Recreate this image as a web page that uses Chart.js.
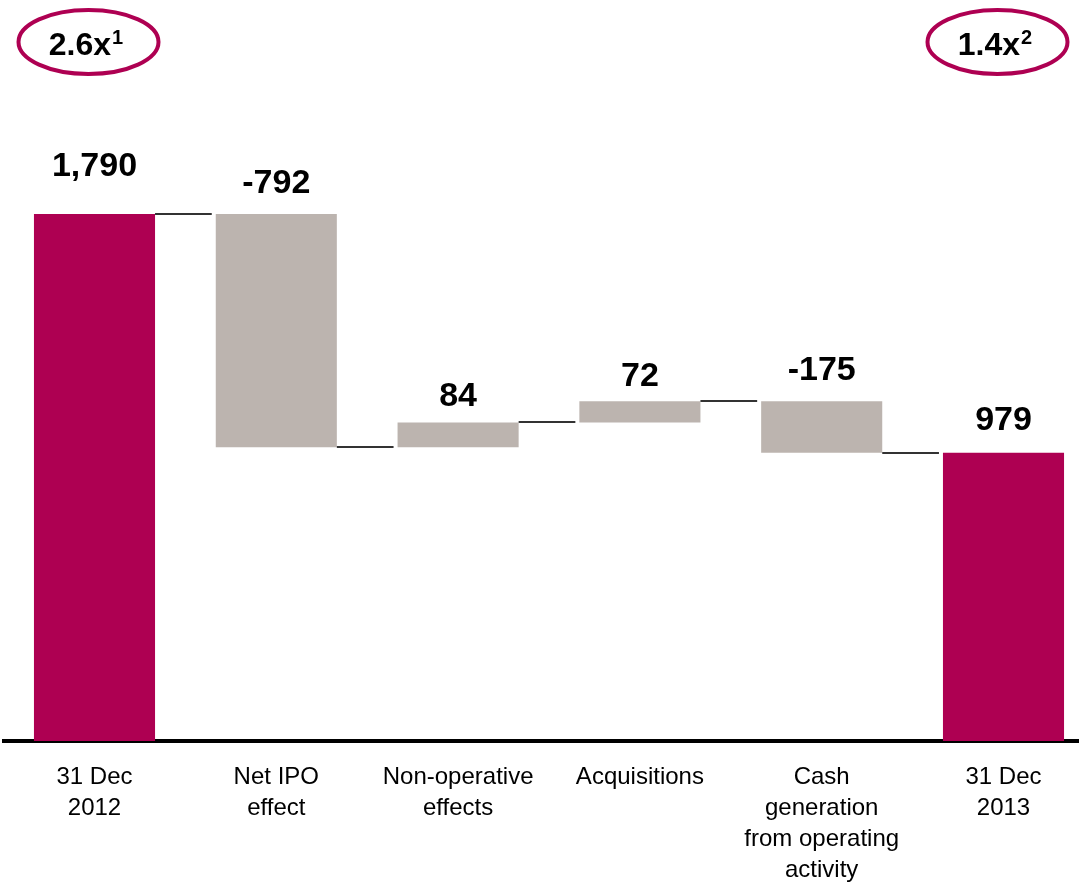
<!DOCTYPE html>
<html>
<head>
<meta charset="utf-8">
<script src="https://cdn.jsdelivr.net/npm/chart.js@4"></script>
<style>
  html, body { margin: 0; padding: 0; background: #fff; overflow: hidden; }
  #wrap { position: relative; width: 1079px; height: 882px; overflow: hidden; }
  #chart { position: absolute; left: 0; top: 0; }
</style>
</head>
<body>
<div id="wrap"><canvas id="chart" width="1100" height="900"></canvas></div>
<script>
// ── Data ──────────────────────────────────────────────────────────────────
const categories = [
  ['31 Dec', '2012'],
  ['Net IPO', 'effect'],
  ['Non-operative', 'effects'],
  ['Acquisitions'],
  ['Cash', 'generation', 'from operating', 'activity'],
  ['31 Dec', '2013'],
];
const startTotal = 1790;
const changes = [-792, 84, 72, -175];
const endTotal = 979;
const valueLabels = ['1,790', '-792', '84', '72', '-175', '979'];
const leverage = ['2.6x', '1.4x'];
const leverageNotes = ['1', '2'];

const TOTAL_COLOR = '#ae0052';
const CHANGE_COLOR = '#bcb4af';
const FONT = "'Liberation Sans', Arial, sans-serif";

// floating bars for the waterfall
const ranges = [[0, startTotal]];
const levels = [startTotal];
let running = startTotal;
changes.forEach(c => {
  const next = running + c;
  ranges.push([Math.min(running, next), Math.max(running, next)]);
  levels.push(next);
  running = next;
});
ranges.push([0, endTotal]);

const colors = ranges.map((_, i) => (i === 0 || i === ranges.length - 1) ? TOTAL_COLOR : CHANGE_COLOR);

// how far above each bar top the value label sits
const labelOffsets = [47, 30, 26, 25, 31, 32];

const waterfallDecor = {
  id: 'waterfallDecor',
  afterDatasetsDraw(chart) {
    const ctx = chart.ctx;
    const bars = chart.getDatasetMeta(0).data;
    const y = chart.scales.y;
    ctx.save();

    // connector lines
    ctx.strokeStyle = '#333';
    ctx.lineWidth = 2;
    for (let i = 0; i < bars.length - 1; i++) {
      const a = bars[i], b = bars[i + 1];
      const py = Math.round(y.getPixelForValue(levels[i]));
      ctx.beginPath();
      ctx.moveTo(a.x + a.width / 2, py);
      ctx.lineTo(b.x - b.width / 2 - 4, py);
      ctx.stroke();
    }

    // value labels
    ctx.fillStyle = '#000';
    ctx.font = `bold 34px ${FONT}`;
    ctx.textAlign = 'center';
    ctx.textBaseline = 'middle';
    bars.forEach((bar, i) => {
      const top = Math.min(bar.y, bar.base);
      ctx.fillText(valueLabels[i], bar.x, top - labelOffsets[i]);
    });

    // leverage ellipses above first and last bar
    [0, bars.length - 1].forEach((idx, k) => {
      const cx = bars[idx].x - 6;
      const cy = 42;
      ctx.beginPath();
      ctx.ellipse(cx, cy, 70, 32, 0, 0, Math.PI * 2);
      ctx.strokeStyle = TOTAL_COLOR;
      ctx.lineWidth = 4;
      ctx.stroke();

      ctx.fillStyle = '#000';
      ctx.textAlign = 'left';
      ctx.textBaseline = 'alphabetic';
      ctx.font = `bold 32px ${FONT}`;
      const w1 = ctx.measureText(leverage[k]).width;
      ctx.font = `bold 20px ${FONT}`;
      const w2 = ctx.measureText(leverageNotes[k]).width;
      const x0 = cx - (w1 + w2) / 2 - 3;
      ctx.font = `bold 32px ${FONT}`;
      ctx.fillText(leverage[k], x0, 55);
      ctx.font = `bold 20px ${FONT}`;
      ctx.fillText(leverageNotes[k], x0 + w1 + 1, 44);
    });

    ctx.restore();
  },
};

new Chart(document.getElementById('chart'), {
  type: 'bar',
  data: {
    labels: categories,
    datasets: [{
      data: ranges,
      backgroundColor: colors,
      borderWidth: 0,
      barPercentage: 0.666,
      categoryPercentage: 1,
      borderSkipped: false,
    }],
  },
  options: {
    responsive: false,
    animation: false,
    layout: { padding: { left: 3.6, right: 5.6, top: 34.4, bottom: 0 } },
    plugins: { legend: { display: false }, tooltip: { enabled: false } },
    scales: {
      x: {
        z: 1,
        grid: { display: false, drawTicks: false },
        border: { display: true, color: '#000', width: 4 },
        ticks: {
          color: '#000',
          font: { family: FONT, size: 24, lineHeight: 31 / 24 },
          padding: 21,
          maxRotation: 0,
          autoSkip: false,
        },
        afterFit: (scale) => { scale.height = 159; },
      },
      y: { display: false, min: 0, max: 2400 },
    },
  },
  plugins: [waterfallDecor],
});
</script>
</body>
</html>
